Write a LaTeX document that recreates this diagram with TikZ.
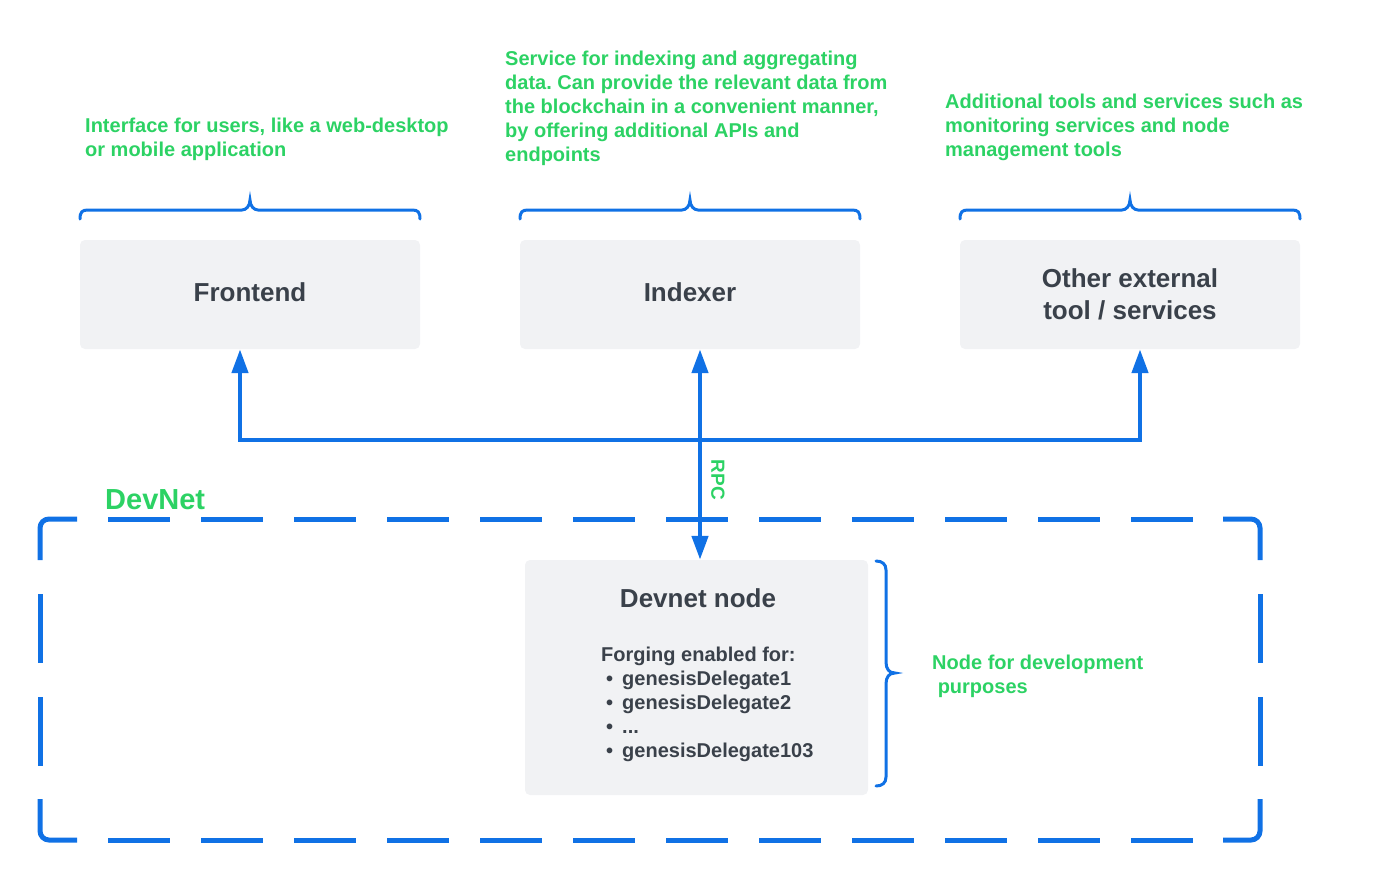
\documentclass[tikz,border=0pt]{standalone}
\usepackage{fontspec}
\setmainfont{Liberation Sans}
\usetikzlibrary{arrows.meta}
\frenchspacing

\definecolor{lineblue}{HTML}{1071E5}
\definecolor{notegreen}{RGB}{44,210,100}
\definecolor{boxgray}{HTML}{F1F2F4}
\definecolor{textgray}{HTML}{3A414A}

\tikzset{
  comp/.style={fill=boxgray, rounded corners=5pt, minimum width=340pt, minimum height=109pt,
    text=textgray, font=\fontsize{26}{32}\selectfont\bfseries, align=center, inner sep=0pt},
  note/.style={text=notegreen, font=\fontsize{20}{24}\selectfont\bfseries, align=left,
    anchor=north west, inner sep=0pt},
  brace/.style={draw=lineblue, line width=3pt, line cap=round},
  link/.style={draw=lineblue, line width=4.5pt},
  tipa/.tip={Triangle[length=24pt,width=16pt]},
  frame/.style={draw=lineblue, line width=5pt, rounded corners=9pt},
}

\begin{document}
\begin{tikzpicture}[x=1pt, y=-1pt]
\useasboundingbox (0,0) rectangle (1380,880);

% Notes on top
\node[note] (fenote) at (85,117.5) {Interface for users, like a web-desktop\\or mobile application};
\node[note] (ixnote) at (505,50.5) {Service for indexing and aggregating\\data. Can provide the relevant data from\\the blockchain in a convenient manner,\\by offering additional APIs and\\endpoints};
\node[note] (otnote) at (945,93.5) {Additional tools and services such as\\monitoring services and node\\management tools};

% Braces
\foreach \bx in {80,520,960} {
  \draw[brace] (\bx,219) .. controls (\bx,212) and ({\bx+2},210) .. ({\bx+8},210)
    -- ({\bx+162},210) .. controls ({\bx+166},210) and ({\bx+170},206) .. ({\bx+170},200)
    .. controls ({\bx+170},206) and ({\bx+174},210) .. ({\bx+178},210)
    -- ({\bx+332},210) .. controls ({\bx+338},210) and ({\bx+340},212) .. ({\bx+340},219);
}

% Components
\node[comp] (fe) at (250,294.5) {Frontend\vphantom{()}};
\node[comp] (ix) at (690,294.5) {Indexer\vphantom{()}};
\node[comp] (ot) at (1130,294.5) {Other external\\tool / services};

% Bus
\coordinate (busl) at (240,440);
\coordinate (busr) at (1140,440);
\coordinate (rpc) at (700,440);
\draw[link, tipa-tipa] (busl |- fe.south) -- (busl) -- (busr) -- (busr |- ot.south);

% DevNet frame
\node[text=notegreen, font=\fontsize{29}{34}\selectfont\bfseries, anchor=west, inner sep=0pt] (devnet) at (105,500) {DevNet};
\draw[frame] (40,560) -- (40,519) -- (77,519);
\draw[frame] (1223,519) -- (1260,519) -- (1260,560);
\draw[frame] (1260,799) -- (1260,840) -- (1223,840);
\draw[frame] (77,840) -- (40,840) -- (40,799);
\draw[frame, dash pattern=on 62pt off 31pt, dash phase=62pt] (77,519) -- (1223,519);
\draw[frame, dash pattern=on 62pt off 31pt, dash phase=62pt] (77,840) -- (1223,840);
\draw[frame, dash pattern=on 69pt off 34pt, dash phase=69pt] (40,560) -- (40,799);
\draw[frame, dash pattern=on 69pt off 34pt, dash phase=69pt] (1260,560) -- (1260,799);

% Devnet node
\node[fill=boxgray, rounded corners=5pt, minimum width=343pt, minimum height=235pt, inner sep=0pt] (dn) at (696.5,677.5) {};
\node[text=textgray, font=\fontsize{26}{32}\selectfont\bfseries, inner sep=0pt] (dntitle) at (698,598) {Devnet node};
\node[note, text=textgray] (dnlist) at (601,646.5) {Forging enabled for:\\
  \hspace*{5pt}•\hspace*{9pt}genesisDelegate1\\
  \hspace*{5pt}•\hspace*{9pt}genesisDelegate2\\
  \hspace*{5pt}•\hspace*{9pt}...\\
  \hspace*{5pt}•\hspace*{9pt}genesisDelegate103};

% RPC link
\draw[link, tipa-tipa] (ix.south -| rpc) -- (dn.north -| rpc);
\node[text=notegreen, font=\fontsize{19}{23}\selectfont\bfseries, rotate=-90, inner sep=0pt] (rpclabel) at (718,480) {RPC};

% Right brace
\draw[brace] (876,561) .. controls (882,561) and (886,564) .. (886,570) -- (886,662)
  .. controls (886,669) and (889,673) .. (895,673) .. controls (889,673) and (886,677) .. (886,684)
  -- (886,777) .. controls (886,783) and (882,786) .. (876,786);
\node[note] (dnnote) at (932,654.5) {Node for development\\\ purposes};

\end{tikzpicture}
\end{document}
